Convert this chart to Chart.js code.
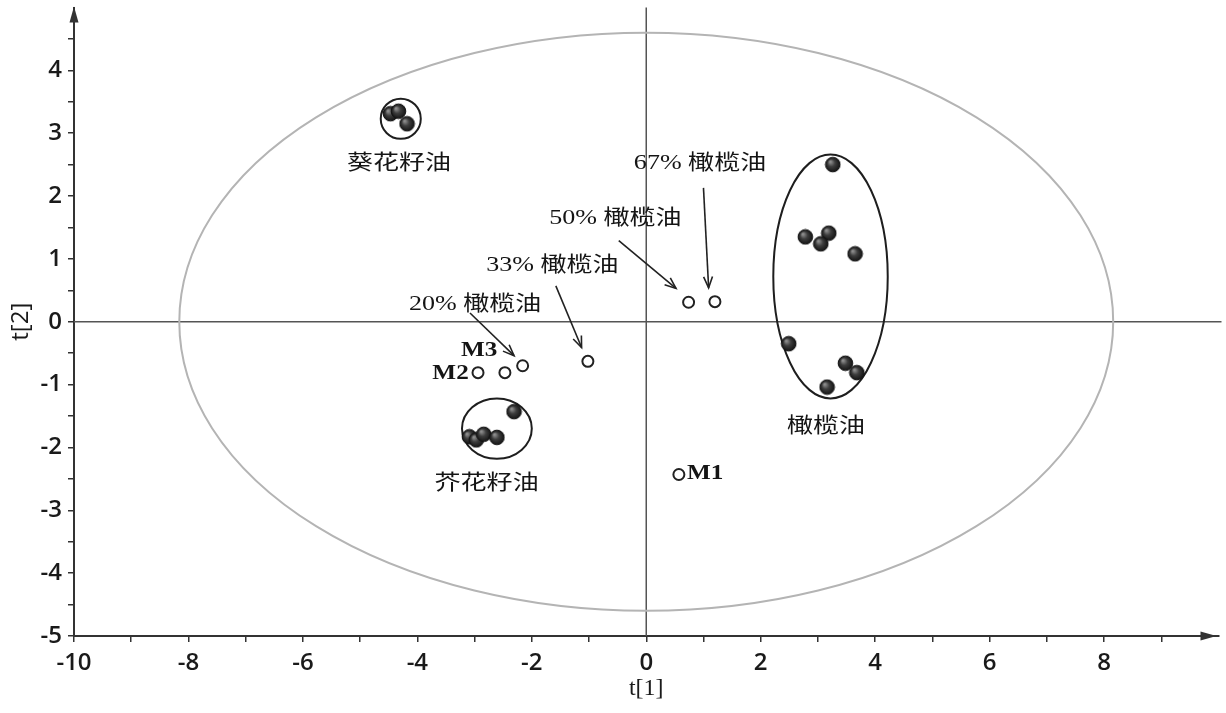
<!DOCTYPE html>
<html>
<head>
<meta charset="utf-8">
<script src="https://cdn.jsdelivr.net/npm/chart.js@4.4.0/dist/chart.umd.min.js"></script>
<style>
  html, body { margin: 0; padding: 0; background: #fff; }
  #wrap { width: 1226px; height: 713px; }
</style>
</head>
<body>
<div id="wrap"><canvas id="c" width="1226" height="713"></canvas></div>
<script>
// PCA scores: t[1] (first component) and t[2] (second component)
const sunflowerT1 = [-4.47, -4.33, -4.18];
const sunflowerT2 = [3.31, 3.35, 3.15];

const mustardT1 = [-2.31, -3.09, -2.97, -2.84, -2.61];
const mustardT2 = [-1.43, -1.83, -1.88, -1.79, -1.84];

const oliveT1 = [3.26, 2.78, 3.19, 3.05, 3.65, 2.49, 3.48, 3.68, 3.16];
const oliveT2 = [2.50, 1.35, 1.41, 1.24, 1.08, -0.35, -0.66, -0.81, -1.04];

// blends and unknown samples (open markers)
const sampleNames = ['M2', 'M3', '20%', '33%', '50%', '67%', 'M1'];
const sampleT1 = [-2.94, -2.47, -2.16, -1.02, 0.74, 1.20, 0.57];
const sampleT2 = [-0.81, -0.81, -0.70, -0.63, 0.31, 0.32, -2.43];

// tick labels
const xTickLabels = [-10, -8, -6, -4, -2, 0, 2, 4, 6, 8];
const yTickLabels = [-5, -4, -3, -2, -1, 0, 1, 2, 3, 4];

// Hotelling T2 ellipse and group outlines (centre and semi-axes in score units)
const regions = [
  { cx: 0, cy: 0, rx: 8.16, ry: 4.6, color: '#b4b4b4', width: 2 },
  { cx: -4.29, cy: 3.23, rx: 0.35, ry: 0.32, color: '#1e1e1e', width: 2 },
  { cx: -2.61, cy: -1.70, rx: 0.61, ry: 0.48, color: '#1e1e1e', width: 2 },
  { cx: 3.22, cy: 0.72, rx: 1.0, ry: 1.94, color: '#1e1e1e', width: 2 }
];

// text annotations: group names, blend names, sample codes
const groupText = ['葵花籽油', '芥花籽油', '橄榄油'];
const groupTextAt = [[-4.32, 2.52], [-2.79, -2.57], [3.14, -1.66]];
const blendText = ['20% 橄榄油', '33% 橄榄油', '50% 橄榄油', '67% 橄榄油'];
const blendTextAt = [[-2.99, 0.27], [-1.64, 0.89], [-0.54, 1.64], [0.94, 2.52]];
const blendArrows = [
  [-3.08, 0.14, -2.31, -0.54],
  [-1.58, 0.57, -1.13, -0.41],
  [-0.48, 1.29, 0.52, 0.53],
  [1.00, 2.13, 1.09, 0.54]
];
const codeText = ['M3', 'M2', 'M1'];
const codeTextAt = [[-2.92, -0.46], [-3.42, -0.83], [1.03, -2.42]];

const toPoints = (xs, ys) => xs.map((v, i) => ({ x: v, y: ys[i] }));

// shaded ball marker
function makeBall(r) {
  const c = document.createElement('canvas');
  const s = Math.ceil(r * 2 + 2);
  c.width = c.height = s;
  const g = c.getContext('2d');
  const m = s / 2;
  const grad = g.createRadialGradient(m - r * 0.35, m - r * 0.4, r * 0.1, m, m, r);
  grad.addColorStop(0, '#8e8e8e');
  grad.addColorStop(0.45, '#3d3d3d');
  grad.addColorStop(1, '#141414');
  g.fillStyle = grad;
  g.beginPath();
  g.arc(m, m, r, 0, Math.PI * 2);
  g.fill();
  g.lineWidth = 1;
  g.strokeStyle = '#111';
  g.stroke();
  return c;
}
const ball = makeBall(7.3);

const serifFont = (sz, w) => `${w || 'normal'} ${sz}px "Liberation Serif", "Noto Sans CJK SC", serif`;

function drawText(ctx, text, x, y, font, sx) {
  ctx.save();
  ctx.translate(x, y);
  ctx.scale(sx, 1);
  ctx.font = font;
  ctx.textAlign = 'center';
  ctx.textBaseline = 'middle';
  ctx.fillStyle = '#151515';
  ctx.fillText(text, 0, 0);
  ctx.restore();
}

function drawArrow(ctx, x1, y1, x2, y2) {
  ctx.beginPath();
  ctx.moveTo(x1, y1);
  ctx.lineTo(x2, y2);
  ctx.stroke();
  const a = Math.atan2(y2 - y1, x2 - x1), L = 12, w = 0.38;
  ctx.beginPath();
  ctx.moveTo(x2 - L * Math.cos(a - w), y2 - L * Math.sin(a - w));
  ctx.lineTo(x2, y2);
  ctx.lineTo(x2 - L * Math.cos(a + w), y2 - L * Math.sin(a + w));
  ctx.stroke();
}

const overlay = {
  id: 'overlay',
  beforeDatasetsDraw(chart) {
    const { ctx, chartArea: a, scales: { x, y } } = chart;
    ctx.save();
    // zero reference lines
    ctx.strokeStyle = '#555';
    ctx.lineWidth = 1.5;
    ctx.beginPath();
    const y0 = y.getPixelForValue(0), x0 = x.getPixelForValue(0);
    ctx.moveTo(a.left, y0); ctx.lineTo(a.right + 3, y0);
    ctx.moveTo(x0, a.top); ctx.lineTo(x0, a.bottom);
    ctx.stroke();
    // confidence ellipse and group outlines
    for (const e of regions) {
      const cx = x.getPixelForValue(e.cx), cy = y.getPixelForValue(e.cy);
      const rx = Math.abs(x.getPixelForValue(e.cx + e.rx) - cx);
      const ry = Math.abs(y.getPixelForValue(e.cy + e.ry) - cy);
      ctx.beginPath();
      ctx.ellipse(cx, cy, rx, ry, 0, 0, Math.PI * 2);
      ctx.strokeStyle = e.color;
      ctx.lineWidth = e.width;
      ctx.stroke();
    }
    ctx.restore();
  },
  afterDatasetsDraw(chart) {
    const { ctx, chartArea: a, scales: { x, y } } = chart;
    ctx.save();
    // arrow heads on the axes
    ctx.fillStyle = '#333';
    ctx.beginPath();
    ctx.moveTo(a.left, a.top - 1);
    ctx.lineTo(a.left - 4.5, a.top + 15);
    ctx.lineTo(a.left + 4.5, a.top + 15);
    ctx.closePath();
    ctx.fill();
    ctx.beginPath();
    ctx.moveTo(a.right - 2, a.bottom);
    ctx.lineTo(a.right - 18, a.bottom - 4.5);
    ctx.lineTo(a.right - 18, a.bottom + 4.5);
    ctx.closePath();
    ctx.fill();

    // pointer arrows
    ctx.strokeStyle = '#222';
    ctx.lineWidth = 1.6;
    for (const [x1, y1, x2, y2] of blendArrows) {
      drawArrow(ctx, x.getPixelForValue(x1), y.getPixelForValue(y1),
                x.getPixelForValue(x2), y.getPixelForValue(y2));
    }
    // labels
    groupText.forEach((t, i) => drawText(ctx, t, x.getPixelForValue(groupTextAt[i][0]),
      y.getPixelForValue(groupTextAt[i][1]), serifFont(21), 1.24));
    blendText.forEach((t, i) => drawText(ctx, t, x.getPixelForValue(blendTextAt[i][0]),
      y.getPixelForValue(blendTextAt[i][1]), serifFont(21), 1.24));
    codeText.forEach((t, i) => drawText(ctx, t, x.getPixelForValue(codeTextAt[i][0]),
      y.getPixelForValue(codeTextAt[i][1]), serifFont(21, 'bold'), 1.2));
    ctx.restore();
  }
};

const tickFont = { family: '"Open Sans", "DejaVu Sans", sans-serif', size: 24, weight: '600' };

new Chart(document.getElementById('c'), {
  type: 'scatter',
  data: {
    datasets: [
      { label: '葵花籽油', data: toPoints(sunflowerT1, sunflowerT2), pointStyle: ball },
      { label: '芥花籽油', data: toPoints(mustardT1, mustardT2), pointStyle: ball },
      { label: '橄榄油', data: toPoints(oliveT1, oliveT2), pointStyle: ball },
      {
        label: 'samples', data: toPoints(sampleT1, sampleT2), pointStyle: 'circle',
        radius: 5.5, backgroundColor: '#fff', borderColor: '#222', borderWidth: 2
      }
    ]
  },
  options: {
    responsive: false,
    animation: false,
    events: [],
    layout: { padding: { left: 0, right: 5, top: 7, bottom: 0 } },
    plugins: { legend: { display: false }, tooltip: { enabled: false } },
    scales: {
      x: {
        type: 'linear', position: 'bottom', min: -10, max: 10,
        afterFit: s => { s.height = 77; s.paddingRight = 0; },
        ticks: {
          stepSize: 1, autoSkip: false, maxRotation: 0, padding: 7,
          color: '#1a1a1a', font: tickFont,
          callback: v => v >= 10 ? null : (xTickLabels.includes(v) ? String(v) : '')
        },
        grid: { drawOnChartArea: false, drawTicks: true, tickLength: 6, color: '#333', lineWidth: 1.5 },
        border: { display: true, color: '#333', width: 2 },
        title: {
          display: true, text: 't[1]', color: '#1a1a1a',
          font: { family: '"Liberation Serif", serif', size: 24 },
          padding: { top: 0, bottom: 10 }
        }
      },
      y: {
        type: 'linear', position: 'left', min: -5, max: 5,
        afterFit: s => { s.width = 74; s.paddingTop = 0; },
        ticks: {
          stepSize: 0.5, autoSkip: false, padding: 6,
          color: '#1a1a1a', font: tickFont,
          callback: v => v >= 5 ? null : (yTickLabels.includes(v) ? String(v) : '')
        },
        grid: { drawOnChartArea: false, drawTicks: true, tickLength: 6, color: '#333', lineWidth: 1.5 },
        border: { display: true, color: '#333', width: 2 },
        title: {
          display: true, text: 't[2]', color: '#1a1a1a',
          font: { family: '"Open Sans", "DejaVu Sans", sans-serif', size: 24 },
          padding: { top: 7, bottom: 0 }
        }
      }
    }
  },
  plugins: [overlay]
});
</script>
</body>
</html>
